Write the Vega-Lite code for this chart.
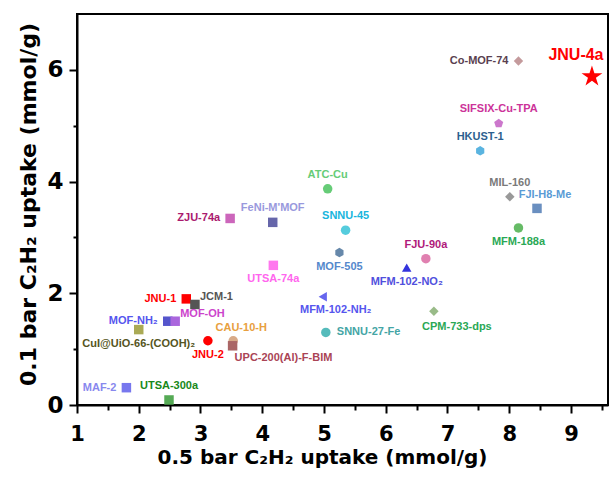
{
  "$schema": "https://vega.github.io/schema/vega-lite/v6.json",
  "width": 531,
  "height": 391,
  "autosize": {"type": "none"},
  "padding": {"left": 77, "top": 14, "right": 1, "bottom": 74},
  "background": "white",
  "config": {"view": {"stroke": "black", "strokeWidth": 2}, "font": "Liberation Sans"},
  "data": {"values": [
    {"name": "JNU-4a", "x": 9.34, "y": 5.88},
    {"name": "Co-MOF-74", "x": 8.15, "y": 6.16},
    {"name": "SIFSIX-Cu-TPA", "x": 7.83, "y": 5.04},
    {"name": "HKUST-1", "x": 7.53, "y": 4.55},
    {"name": "MIL-160", "x": 8.01, "y": 3.73},
    {"name": "FJI-H8-Me", "x": 8.45, "y": 3.52},
    {"name": "MFM-188a", "x": 8.15, "y": 3.17},
    {"name": "FJU-90a", "x": 6.65, "y": 2.62},
    {"name": "MFM-102-NO₂", "x": 6.34, "y": 2.46},
    {"name": "MFM-102-NH₂", "x": 4.98, "y": 1.94},
    {"name": "CPM-733-dps", "x": 6.78, "y": 1.68},
    {"name": "SNNU-27-Fe", "x": 5.03, "y": 1.30},
    {"name": "ATC-Cu", "x": 5.06, "y": 3.87},
    {"name": "SNNU-45", "x": 5.35, "y": 3.13},
    {"name": "MOF-505", "x": 5.25, "y": 2.73},
    {"name": "ZJU-74a", "x": 3.48, "y": 3.34},
    {"name": "FeNi-M'MOF", "x": 4.17, "y": 3.27},
    {"name": "UTSA-74a", "x": 4.18, "y": 2.50},
    {"name": "JNU-1", "x": 2.77, "y": 1.90},
    {"name": "JCM-1", "x": 2.91, "y": 1.80},
    {"name": "MOF-NH₂", "x": 2.47, "y": 1.50},
    {"name": "MOF-OH", "x": 2.59, "y": 1.50},
    {"name": "CuI@UiO-66-(COOH)₂", "x": 2.00, "y": 1.35},
    {"name": "JNU-2", "x": 3.12, "y": 1.15},
    {"name": "CAU-10-H", "x": 3.53, "y": 1.15},
    {"name": "UPC-200(Al)-F-BIM", "x": 3.52, "y": 1.06},
    {"name": "MAF-2", "x": 1.80, "y": 0.31},
    {"name": "UTSA-300a", "x": 2.49, "y": 0.09}
  ]},
  "resolve": {"axis": {"x": "independent", "y": "independent"}},
  "layer": [
    {
      "encoding": {
        "x": {
          "field": "x", "type": "quantitative",
          "scale": {"domain": [1, 9.6], "nice": false, "zero": false},
          "axis": {
            "orient": "bottom",
            "title": "0.5 bar C₂H₂ uptake (mmol/g)",
            "values": [1, 2, 3, 4, 5, 6, 7, 8, 9],
            "format": "d",
            "grid": false, "labelFlush": false, "labelOverlap": false,
            "domainColor": "black", "domainWidth": 2,
            "tickColor": "black", "tickWidth": 2, "tickSize": 8,
            "labelFont": "DejaVu Sans", "labelFontSize": 21, "labelFontWeight": "bold", "labelColor": "black", "labelPadding": 10,
            "titleFont": "DejaVu Sans", "titleFontSize": 20, "titleFontWeight": "bold", "titleColor": "black",
            "titleX": 245, "titleY": 58, "titleBaseline": "alphabetic", "titleAlign": "center"
          }
        },
        "y": {
          "field": "y", "type": "quantitative",
          "scale": {"domain": [0, 7], "nice": false},
          "axis": {
            "orient": "left",
            "title": "0.1 bar C₂H₂ uptake (mmol/g)",
            "values": [0, 2, 4, 6],
            "format": "d",
            "grid": false, "labelFlush": false, "labelOverlap": false,
            "domainColor": "black", "domainWidth": 2,
            "tickColor": "black", "tickWidth": 2, "tickSize": 8,
            "labelFont": "DejaVu Sans", "labelFontSize": 23, "labelFontWeight": "bold", "labelColor": "black", "labelPadding": 6,
            "titleFont": "DejaVu Sans", "titleFontSize": 22, "titleFontWeight": "bold", "titleColor": "black",
            "titleX": -42, "titleY": 190, "titleBaseline": "alphabetic", "titleAlign": "center", "titleAngle": 270
          }
        },
        "color": {
          "field": "name", "type": "nominal", "legend": null,
          "scale": {
            "domain": ["JNU-4a", "Co-MOF-74", "SIFSIX-Cu-TPA", "HKUST-1", "MIL-160", "FJI-H8-Me", "MFM-188a", "FJU-90a", "MFM-102-NO₂", "MFM-102-NH₂", "CPM-733-dps", "SNNU-27-Fe", "ATC-Cu", "SNNU-45", "MOF-505", "ZJU-74a", "FeNi-M'MOF", "UTSA-74a", "JNU-1", "JCM-1", "MOF-NH₂", "MOF-OH", "CuI@UiO-66-(COOH)₂", "JNU-2", "CAU-10-H", "UPC-200(Al)-F-BIM", "MAF-2", "UTSA-300a"],
            "range": ["#ff0000", "#5a3f50", "#cc3399", "#2c5f8f", "#7a7a7a", "#5a9bd5", "#2aa855", "#b0197a", "#5050dd", "#5555ee", "#2aa855", "#44a5a5", "#66cc77", "#18b5dd", "#5588cc", "#aa1a6e", "#9999dd", "#ff66ee", "#ff0000", "#555555", "#5555ee", "#cc44cc", "#555522", "#ff0000", "#e8a040", "#aa4455", "#8888ee", "#188818"]
          }
        }
      },
      "layer": [
        {
          "transform": [{"filter": "datum.name !== 'JNU-4a'"}],
          "mark": {"type": "point", "filled": true, "size": 90, "opacity": 1},
          "encoding": {
            "fill": {
              "field": "name", "type": "nominal", "legend": null,
              "scale": {
                "domain": ["Co-MOF-74", "SIFSIX-Cu-TPA", "HKUST-1", "MIL-160", "FJI-H8-Me", "MFM-188a", "FJU-90a", "MFM-102-NO₂", "MFM-102-NH₂", "CPM-733-dps", "SNNU-27-Fe", "ATC-Cu", "SNNU-45", "MOF-505", "ZJU-74a", "FeNi-M'MOF", "UTSA-74a", "JNU-1", "JCM-1", "MOF-NH₂", "MOF-OH", "CuI@UiO-66-(COOH)₂", "JNU-2", "CAU-10-H", "UPC-200(Al)-F-BIM", "MAF-2", "UTSA-300a"],
                "range": ["#c49a9c", "#cc77cc", "#5ab4e0", "#999999", "#6a8fc0", "#66bb66", "#e080b0", "#3333dd", "#6666ee", "#99bb88", "#55bbbb", "#66cc77", "#55ccdd", "#6688aa", "#cc66bb", "#6666aa", "#ff77ee", "#ff0000", "#555555", "#5555cc", "#aa66dd", "#aaaa55", "#ff0000", "#d8aa88", "#aa6666", "#7777ee", "#55aa55"]
              }
            },
            "shape": {
              "field": "name", "type": "nominal", "legend": null,
              "scale": {
                "domain": ["Co-MOF-74", "SIFSIX-Cu-TPA", "HKUST-1", "MIL-160", "FJI-H8-Me", "MFM-188a", "FJU-90a", "MFM-102-NO₂", "MFM-102-NH₂", "CPM-733-dps", "SNNU-27-Fe", "ATC-Cu", "SNNU-45", "MOF-505", "ZJU-74a", "FeNi-M'MOF", "UTSA-74a", "JNU-1", "JCM-1", "MOF-NH₂", "MOF-OH", "CuI@UiO-66-(COOH)₂", "JNU-2", "CAU-10-H", "UPC-200(Al)-F-BIM", "MAF-2", "UTSA-300a"],
                "range": ["diamond", "M0,-1L0.951,-0.309L0.588,0.809L-0.588,0.809L-0.951,-0.309Z", "M0,-1L0.866,-0.5L0.866,0.5L0,1L-0.866,0.5L-0.866,-0.5Z", "diamond", "square", "circle", "circle", "triangle-up", "triangle-left", "diamond", "circle", "circle", "circle", "M0,-1L0.866,-0.5L0.866,0.5L0,1L-0.866,0.5L-0.866,-0.5Z", "square", "square", "square", "square", "square", "square", "square", "square", "circle", "circle", "square", "square", "square"]
              }
            }
          }
        },
        {
          "transform": [{"filter": "datum.name === 'JNU-4a'"}],
          "mark": {"type": "point", "filled": true, "opacity": 1, "size": 480, "shape": "M0,-1L0.2245,-0.309L0.951,-0.309L0.363,0.118L0.588,0.809L0,0.382L-0.588,0.809L-0.363,0.118L-0.951,-0.309L-0.2245,-0.309Z"}
        },
        {
          "transform": [{"filter": "datum.name === 'JNU-4a'"}],
          "mark": {"type": "text", "fontSize": 16, "fontWeight": "bold", "dx": -16, "dy": -22, "align": "center", "baseline": "middle"},
          "encoding": {"text": {"field": "name"}}
        },
        {
          "transform": [{"filter": {"field": "name", "oneOf": ["SIFSIX-Cu-TPA", "HKUST-1", "MIL-160", "FJU-90a", "ATC-Cu", "SNNU-45", "FeNi-M'MOF", "UTSA-300a"]}}],
          "mark": {"type": "text", "fontSize": 11, "fontWeight": "bold", "dy": -14, "align": "center", "baseline": "middle"},
          "encoding": {"text": {"field": "name"}}
        },
        {
          "transform": [{"filter": {"field": "name", "oneOf": ["FJI-H8-Me", "CAU-10-H"]}}],
          "mark": {"type": "text", "fontSize": 11, "fontWeight": "bold", "dx": 8, "dy": -13, "align": "center", "baseline": "middle"},
          "encoding": {"text": {"field": "name"}}
        },
        {
          "transform": [{"filter": {"field": "name", "oneOf": ["MFM-188a", "MFM-102-NO₂", "MOF-505", "UTSA-74a", "CuI@UiO-66-(COOH)₂", "JNU-2"]}}],
          "mark": {"type": "text", "fontSize": 11, "fontWeight": "bold", "dy": 14, "align": "center", "baseline": "middle"},
          "encoding": {"text": {"field": "name"}}
        },
        {
          "transform": [{"filter": {"field": "name", "oneOf": ["MFM-102-NH₂"]}}],
          "mark": {"type": "text", "fontSize": 11, "fontWeight": "bold", "dx": 13, "dy": 13, "align": "center", "baseline": "middle"},
          "encoding": {"text": {"field": "name"}}
        },
        {
          "transform": [{"filter": {"field": "name", "oneOf": ["CPM-733-dps"]}}],
          "mark": {"type": "text", "fontSize": 11, "fontWeight": "bold", "dx": 23, "dy": 16, "align": "center", "baseline": "middle"},
          "encoding": {"text": {"field": "name"}}
        },
        {
          "transform": [{"filter": {"field": "name", "oneOf": ["Co-MOF-74", "ZJU-74a", "JNU-1", "MOF-NH₂", "MAF-2"]}}],
          "mark": {"type": "text", "fontSize": 11, "fontWeight": "bold", "dx": -10, "align": "right", "baseline": "middle"},
          "encoding": {"text": {"field": "name"}}
        },
        {
          "transform": [{"filter": {"field": "name", "oneOf": ["SNNU-27-Fe"]}}],
          "mark": {"type": "text", "fontSize": 11, "fontWeight": "bold", "dx": 11, "align": "left", "baseline": "middle"},
          "encoding": {"text": {"field": "name"}}
        },
        {
          "transform": [{"filter": {"field": "name", "oneOf": ["JCM-1", "MOF-OH"]}}],
          "mark": {"type": "text", "fontSize": 11, "fontWeight": "bold", "dx": 5, "dy": -7, "align": "left", "baseline": "middle"},
          "encoding": {"text": {"field": "name"}}
        },
        {
          "transform": [{"filter": {"field": "name", "oneOf": ["UPC-200(Al)-F-BIM"]}}],
          "mark": {"type": "text", "fontSize": 11, "fontWeight": "bold", "dx": 2, "dy": 12, "align": "left", "baseline": "middle"},
          "encoding": {"text": {"field": "name"}}
        }
      ]
    },
    {
      "mark": {"type": "point", "opacity": 0},
      "encoding": {
        "x": {
          "field": "x", "type": "quantitative",
          "scale": {"domain": [1, 9.6], "nice": false, "zero": false},
          "axis": {
            "orient": "bottom", "title": null, "labels": false, "domain": false, "grid": false,
            "values": [1.5, 2.5, 3.5, 4.5, 5.5, 6.5, 7.5, 8.5, 9.5],
            "tickColor": "black", "tickWidth": 2, "tickSize": 5
          }
        },
        "y": {
          "field": "y", "type": "quantitative",
          "scale": {"domain": [0, 7], "nice": false},
          "axis": {
            "orient": "left", "title": null, "labels": false, "domain": false, "grid": false,
            "values": [1, 3, 5],
            "tickColor": "black", "tickWidth": 2, "tickSize": 4
          }
        }
      }
    }
  ]
}
